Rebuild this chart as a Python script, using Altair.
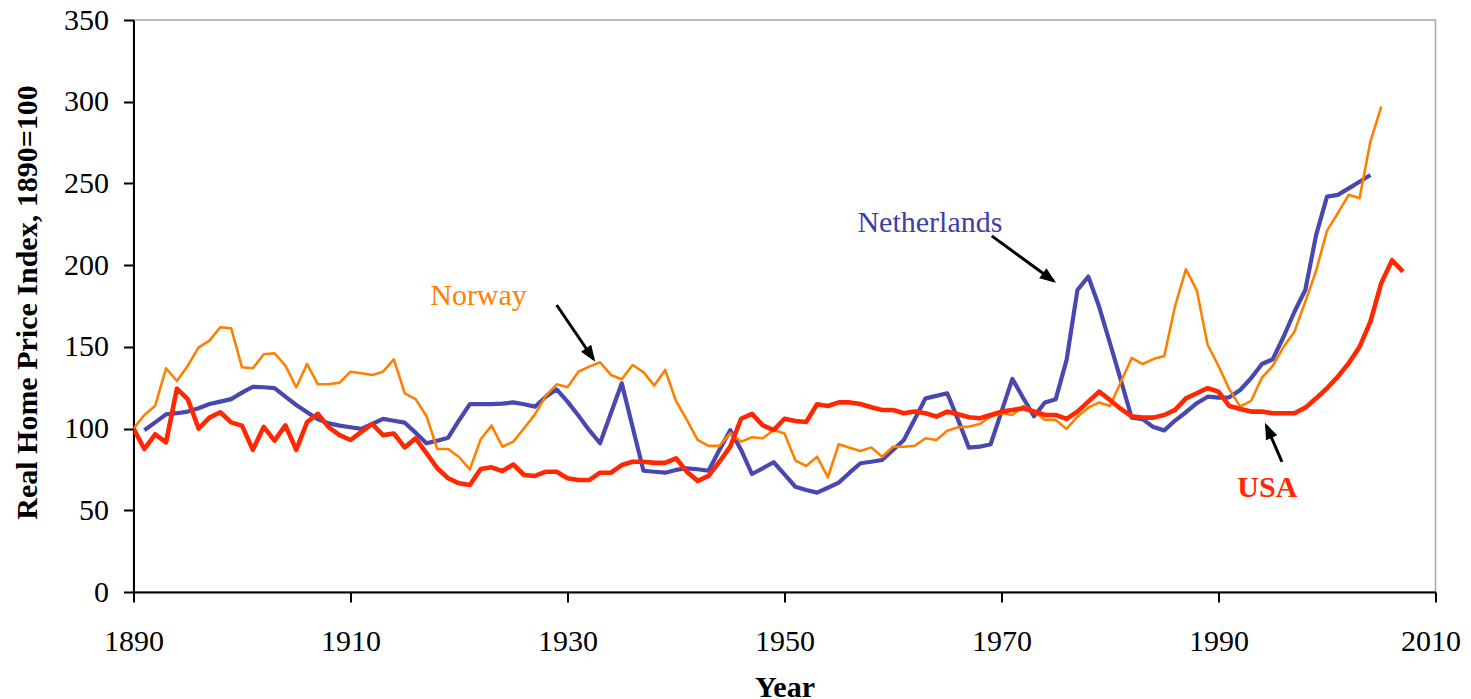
import altair as alt
import pandas as pd

# ---------------- data ----------------
usa_years = list(range(1890, 2008))
usa_values = [
    100, 87.5, 96.5, 91.6, 124.4, 118, 100, 106.7, 110, 103.8,
    101.8, 87, 101, 92.6, 102, 87, 104, 109, 100.7, 96,
    93, 98, 102.8, 96, 97, 88.5, 94, 85, 75.7, 69.6,
    66.5, 65.5, 75.3, 76.3, 74, 78, 71.6, 71, 73.6, 73.6,
    69.6, 68.5, 68.5, 73, 73, 77.7, 79.7, 79.7, 79, 79,
    81.8, 73.6, 68, 71, 79.7, 89, 106, 109, 102, 99,
    106, 104.6, 104, 114.9, 113.8, 116, 116, 115, 113, 111.4,
    111.4, 109.4, 110.4, 109.4, 107.3, 110.4, 108.7, 106.9, 106.3, 108.3,
    110.4, 111.4, 112.4, 110.4, 108.3, 108.3, 105.9, 110.4, 116.5, 122.6,
    117.5, 112, 107.5, 106.7, 106.7, 108.3, 111.4, 118.5, 121.6, 124.7,
    122.6, 113.8, 112, 110.4, 110.4, 109.4, 109.4, 109.4, 112.8, 118.5,
    124.7, 131.8, 140, 150, 165.4, 189, 203, 196,
]

nl_years = list(range(1891, 2005))
nl_values = [
    99, 103.8, 108.7, 109.4, 110.4, 112.4, 115, 116.5, 118,
    122, 125.6, 125.3, 124.7, 119.5, 114.4, 110, 105.7, 103.2, 101.8,
    100.8, 99.8, 102.8, 105.9, 104.8, 103.6, 97.5, 91, 92.6, 94.4,
    105, 115, 115, 115, 115.3, 116, 114.9, 113.4, 119.5, 124,
    116.5, 108, 99, 91, 109.4, 127.7, 101, 74.2, 73.6, 73,
    74.7, 75.7, 75.1, 74.2, 86.9, 99, 86.9, 72.2, 75.7, 79.4,
    72, 64.4, 62.4, 60.8, 63.8, 66.9, 73, 78.8, 79.7, 80.8,
    86.9, 93, 105.7, 118.5, 120, 121.6, 105.3, 88.3, 88.9, 90.4,
    110.4, 130.4, 118.7, 107.5, 116, 118, 142, 184.8, 193, 174.5,
    152.2, 129.7, 106.6, 105.8, 100.9, 98.9, 104.9, 110, 115.5, 119.5,
    118.9, 119.1, 123.6, 130.8, 139.5, 142.4, 156.2, 171.5, 184.8, 218.5,
    241.9, 243, 247, 251, 255.2,
]

no_years = list(range(1890, 2006))
no_values = [
    100, 108.3, 114, 136.9, 129.1, 138.5, 149.7, 153.8, 162, 161.4,
    137.5, 136.9, 145.5, 146.1, 138.5, 125.3, 139.5, 127.1, 127.1, 128.1,
    134.8, 133.8, 132.8, 134.8, 142.4, 121.6, 118, 107.7, 87.5, 87.5,
    82.6, 75, 93.5, 101.8, 88.9, 92, 100.2, 108.7, 120.1, 127.1,
    125.3, 134.8, 137.9, 140.6, 132.8, 130.2, 138.9, 134.5, 126.3, 135.9,
    116.9, 105.3, 93, 89.4, 89.4, 97.1, 92, 94.7, 94.1, 99.1,
    97, 80.6, 77.1, 82.8, 70.2, 90.4, 88.3, 86.3, 88.5, 82.8,
    88.9, 88.9, 89.5, 94.1, 93, 98.7, 100.8, 101.2, 102.8, 107.3,
    109.4, 108.3, 113.8, 110.4, 105.3, 105.3, 99.8, 107.3, 112.8, 116,
    113.8, 128.5, 143.2, 139.5, 142.5, 144.4, 175, 197.5, 184.6, 151.2,
    138.3, 124, 113.4, 116.9, 131.2, 138.3, 150, 159.3, 177.7, 196.6,
    221.1, 231.8, 243, 241, 275.6, 297,
]

x_ticks = [1890, 1910, 1930, 1950, 1970, 1990, 2010]
y_ticks = [0, 50, 100, 150, 200, 250, 300, 350]

# annotation labels
label_text = ["Norway", "Netherlands", "USA"]
label_year = [1921.8, 1963.4, 1994.5]
label_value = [175.6, 220.1, 58.3]

# annotation arrows (tail -> tip)
arrow_year = [1929.0, 1969.1, 1995.85]
arrow_value = [175.6, 217.9, 79.6]
arrow_tip_year = [1932.4, 1974.8, 1994.4]
arrow_tip_value = [142.4, 190.3, 101.8]
arrow_angle = [146, 126, 336]

# ---------------- styles ----------------
FONT = "Liberation Serif"
C_USA = "#FF2800"
C_NL = "#4848B0"
C_NO = "#FF8000"

df_usa = pd.DataFrame({"Year": usa_years, "Index": usa_values})
df_nl = pd.DataFrame({"Year": nl_years, "Index": nl_values})
df_no = pd.DataFrame({"Year": no_years, "Index": no_values})

x_scale = alt.Scale(domain=[1890, 2010], nice=False, zero=False)
y_scale = alt.Scale(domain=[0, 350], nice=False)

x_axis = alt.Axis(
    values=x_ticks, format="d", title="Year", grid=False,
    labelFont=FONT, labelFontSize=30, labelColor="black", labelPadding=24,
    labelFlush=False, labelOverlap=False,
    labelOffset={"expr": "datum.value == 2010 ? -5 : 0"},
    tickSize=10, tickColor="black", tickWidth=2,
    domainColor="black", domainWidth=2,
    titleFont=FONT, titleFontSize=30, titleFontWeight="bold", titleColor="black",
    titleX=651, titleY=104, titleBaseline="alphabetic", titleAlign="center",
)
y_axis = alt.Axis(
    values=y_ticks, title="Real Home Price Index, 1890=100", grid=False,
    labelFont=FONT, labelFontSize=30, labelColor="black", labelPadding=15,
    labelFlush=False, labelOverlap=False,
    tickSize=10, tickColor="black", tickWidth=2,
    domainColor="black", domainWidth=2,
    titleFont=FONT, titleFontSize=30, titleFontWeight="bold", titleColor="black",
    titleX=-106, titleY=282, titleBaseline="middle", titleAlign="center", titleAngle=270,
)

X = lambda f: alt.X(f, scale=x_scale, axis=x_axis)
Y = lambda f: alt.Y(f, scale=y_scale, axis=y_axis)


def series(df, color, width):
    return alt.Chart(df).mark_line(
        color=color, strokeWidth=width, strokeJoin="round", clip=True
    ).encode(x=X("Year:Q"), y=Y("Index:Q"))

nl_line = series(df_nl, C_NL, 4.2)
no_line = series(df_no, C_NO, 2.6)
usa_line = series(df_usa, C_USA, 4.6)

df_labels = pd.DataFrame({
    "text": label_text, "Year": label_year, "Index": label_value,
})
label_colors = alt.Color("text:N", scale=alt.Scale(
    domain=["Norway", "Netherlands", "USA"], range=[C_NO, "#4040A8", C_USA]), legend=None)

labels_regular = alt.Chart(df_labels).transform_filter(
    alt.datum.text != "USA"
).mark_text(
    font=FONT, fontSize=30, baseline="alphabetic", align="center"
).encode(x=X("Year:Q"), y=Y("Index:Q"), text="text:N", color=label_colors)

labels_bold = alt.Chart(df_labels).transform_filter(
    alt.datum.text == "USA"
).mark_text(
    font=FONT, fontSize=30, fontWeight="bold", baseline="alphabetic", align="center"
).encode(x=X("Year:Q"), y=Y("Index:Q"), text="text:N", color=label_colors)

df_arrows = pd.DataFrame({
    "Year": arrow_year, "Index": arrow_value,
    "Year2": arrow_tip_year, "Index2": arrow_tip_value,
    "angle": arrow_angle,
})
shafts = alt.Chart(df_arrows).mark_rule(color="black", strokeWidth=3).encode(
    x=X("Year:Q"), y=Y("Index:Q"), x2="Year2:Q", y2="Index2:Q",
)
heads = alt.Chart(df_arrows).mark_point(
    shape="M0,-0.3L-0.6,1.3L0.6,1.3Z", filled=True, color="black",
    opacity=1, size=420, strokeWidth=0,
).encode(
    x=X("Year2:Q"), y=Y("Index2:Q"),
    angle=alt.Angle("angle:Q", scale=None),
)

chart = alt.layer(nl_line, no_line, usa_line, shafts, heads,
                  labels_regular, labels_bold).properties(
    width=1302, height=572,
    autosize=alt.AutoSizeParams(type="none"),
    padding={"left": 125.5, "top": 12, "right": 27, "bottom": 106},
    background="white",
).configure_view(stroke="#A6A6A6", strokeWidth=1.5)

chart.save("out.html", embed_options={"renderer": "svg", "actions": False})
